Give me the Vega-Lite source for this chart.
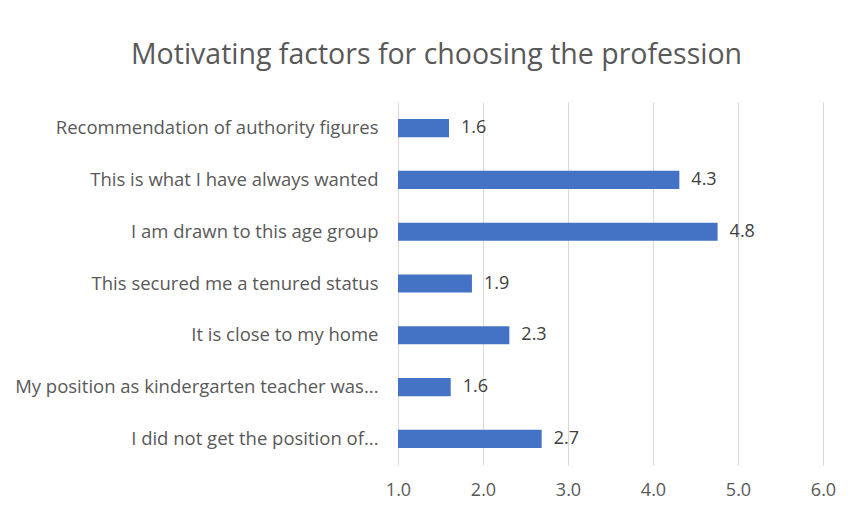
{
  "$schema": "https://vega.github.io/schema/vega-lite/v6.json",
  "autosize": "none",
  "width": 425,
  "height": 363,
  "padding": {"left": 398, "top": 102, "right": 28, "bottom": 49},
  "background": "white",
  "title": {
    "text": "Motivating factors for choosing the profession",
    "font": "Open Sans",
    "fontSize": 28.5,
    "fontWeight": "normal",
    "color": "#595959",
    "anchor": "middle",
    "dx": -174,
    "offset": 33
  },
  "config": {
    "view": {"stroke": null},
    "axis": {"labelFont": "Open Sans", "labelColor": "#595959", "labelFontSize": 18.5}
  },
  "data": {
    "values": [
      {"factor": "Recommendation of authority figures", "value": 1.6},
      {"factor": "This is what I have always wanted", "value": 4.31},
      {"factor": "I am drawn to this age group", "value": 4.76},
      {"factor": "This secured me a tenured status", "value": 1.87},
      {"factor": "It is close to my home", "value": 2.31},
      {"factor": "My position as kindergarten teacher was...", "value": 1.62},
      {"factor": "I did not get the position of...", "value": 2.69}
    ]
  },
  "encoding": {
    "y": {
      "field": "factor",
      "type": "nominal",
      "sort": null,
      "title": null,
      "scale": {"paddingInner": 0.65, "paddingOuter": 0.33},
      "axis": {"domain": false, "ticks": false, "labelPadding": 20, "labelLimit": 400}
    }
  },
  "layer": [
    {
      "mark": {"type": "bar", "color": "#4472C4"},
      "encoding": {
        "x": {
          "field": "value",
          "type": "quantitative",
          "title": null,
          "scale": {"domain": [1, 6], "zero": false, "nice": false},
          "axis": {
            "values": [1, 2, 3, 4, 5, 6],
            "format": ".1f",
            "domain": false,
            "ticks": false,
            "grid": true,
            "gridColor": "#d9d9d9",
            "gridWidth": 1,
            "labelFlush": false,
            "labelFontSize": 18,
            "labelPadding": 16
          }
        },
        "x2": {"datum": 1}
      }
    },
    {
      "mark": {"type": "text", "align": "left", "dx": 12, "font": "Open Sans", "fontSize": 18, "color": "#404040"},
      "encoding": {
        "x": {"field": "value", "type": "quantitative"},
        "text": {"field": "value", "type": "quantitative", "format": ".1f"}
      }
    }
  ]
}
